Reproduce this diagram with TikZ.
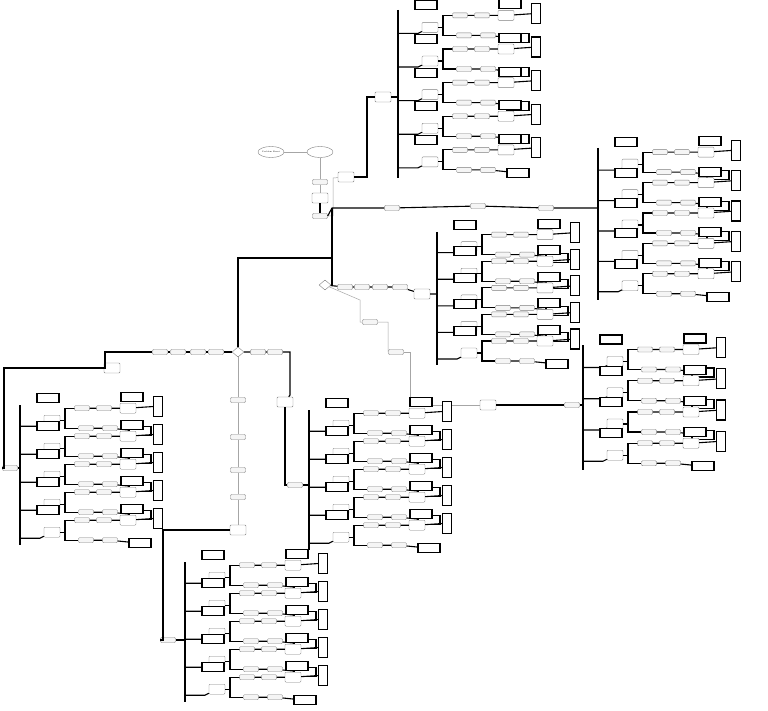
\documentclass[tikz,border=0pt]{standalone}
\usetikzlibrary{shapes.geometric}
\tikzset{
 thk/.style={line width=1.1pt},
 thn/.style={gray!70,line width=0.5pt},
 gbox/.style={draw=gray,fill=gray!8,minimum width=15pt,minimum height=5pt,inner sep=0pt,rounded corners=1pt},
 bbox/.style={draw=black,line width=1.1pt,fill=white,minimum width=22pt,minimum height=9pt,inner sep=0pt},
 tbox/.style={draw=black,line width=1.1pt,fill=white,minimum width=9pt,minimum height=20pt,inner sep=0pt},
 para/.style={draw=gray,fill=white,minimum width=16pt,minimum height=10pt,inner sep=0pt,rounded corners=1pt},
 ell/.style={draw=gray,ellipse,minimum width=26pt,minimum height=11pt,inner sep=0pt,font=\fontsize{2}{2}\selectfont},
 dia/.style={draw=gray,diamond,fill=white,minimum width=12pt,minimum height=10pt,inner sep=0pt},
}
\newcommand\subtr[5]{%
 \draw[thk] (#2,#3) -- (#2,#4);
 \foreach \i in {1,...,#5}{%
  \pgfmathsetmacro\yy{#3+(\i-0.6)*(#4-#3)/#5+4}
  \pgfmathsetmacro\ya{\yy-12}
  \pgfmathsetmacro\yb{\yy+8}
  \pgfmathsetmacro\yc{\yy-22}
  \node[para] (#1-\i-p) at (#2+32,\yy) {};
  \draw[thk] (#2,\yy+6) -- ++(20,0) -- (#1-\i-p);
  \draw[thk] (#1-\i-p.east) -- (#2+45,\yy) -- (#2+45,\ya) -- (#2+58,\ya);
  \draw[thk] (#2+45,\yy) -- (#2+45,\yb) -- (#2+58,\yb);
  \node[bbox] (#1-\i-t) at (#2+28,\yc) {};
  \node[gbox] (#1-\i-a) at (#2+62,\ya) {};
  \node[gbox] (#1-\i-b) at (#2+84,\ya) {};
  \node[para] (#1-\i-c) at (#2+108,\ya) {};
  \node[bbox] (#1-\i-d) at (#2+112,\ya-11) {};
  \node[tbox] (#1-\i-e) at (#2+138,\ya-2) {};
  \draw[thk] (#1-\i-a) -- (#1-\i-b) -- (#1-\i-c) -- (#1-\i-e);
  \node[gbox] (#1-\i-f) at (#2+66,\yb) {};
  \node[gbox] (#1-\i-g) at (#2+90,\yb) {};
  \node[bbox] (#1-\i-h) at (#2+120,\yb+3) {};
  \draw[thk] (#1-\i-f) -- (#1-\i-g) -- (#1-\i-h);
 }}
\begin{document}
\begin{tikzpicture}[x=1pt,y=-1pt]
\useasboundingbox[fill=white] (0,0) rectangle (768,711);
\node[ell] (e1) at (271,152) {Problem Event};
\node[ell] (e2) at (320,152) {};
\draw[thn] (e1) -- (e2);
\node[gbox] (s1) at (320,182) {};
\node[para] (s2) at (320,198) {};
\node[gbox] (s3) at (320,216) {};
\draw[thn] (e2) -- (s1) -- (s2);
\draw[thk] (s2) -- (s3);
\node[para] (s4) at (346,177) {};
\draw[thn] (s3.east) -- (333,216) -- (333,178) -- (s4);
\node[para] (r1) at (383,97) {};
\draw[thk] (s4.east) -- (367,177) -- (367,97) -- (r1);
\draw[thk] (r1) -- (398,97);
\subtr{A}{398}{10}{178}{5}
\coordinate (j1) at (332,208);
\node[gbox] (t1) at (392,208) {};
\node[gbox] (t2) at (478,206) {};
\node[gbox] (t3) at (546,208) {};
\draw[thk] (s3.east) -- (j1) -- (t1) -- (t2) -- (t3) -- (598,208);
\subtr{B}{598}{148}{300}{5}
\node[dia] (d2) at (238,352) {};
\node[dia] (d1) at (325,285) {};
\draw[thk] (j1) -- (332,258) -- (238,258) -- (d2);
\draw[thk] (332,258) -- (332,285) -- (d1);
\node[gbox] (m1) at (345,287) {};
\node[gbox] (m2) at (362,287) {};
\node[gbox] (m3) at (380,287) {};
\node[gbox] (m4) at (400,287) {};
\node[para] (m5) at (422,294) {};
\draw[thk] (d1) -- (m1) -- (m2) -- (m3) -- (m4) -- (m5) -- (437,294);
\subtr{C}{437}{232}{365}{5}
\node[gbox] (n1) at (370,322) {};
\node[gbox] (n2) at (396,352) {};
\draw[thn] (d1) -- (360,300) -- (360,322) -- (n1) -- (388,322) -- (388,352) -- (n2);
\node[para] (n3) at (488,405) {};
\node[gbox] (n4) at (572,405) {};
\draw[thn] (n2) -- (410,352) -- (410,405) -- (n3);
\draw[thk] (n3) -- (n4) -- (583,405);
\subtr{D}{583}{345}{470}{4}
\node[gbox] (l1) at (160,352) {};
\node[gbox] (l2) at (178,352) {};
\node[gbox] (l3) at (198,352) {};
\node[gbox] (l4) at (216,352) {};
\node[para] (l5) at (112,368) {};
\draw[thk] (d2) -- (l4) -- (l3) -- (l2) -- (l1) -- (105,352) -- (105,368) -- (l5);
\node[gbox] (l6) at (10,468) {};
\draw[thk] (l5) -- (4,368) -- (4,468) -- (l6) -- (20,468);
\subtr{L}{20}{405}{545}{5}
\node[gbox] (r2) at (258,352) {};
\node[gbox] (r3) at (275,352) {};
\node[para] (r4) at (285,402) {};
\node[gbox] (r5) at (295,485) {};
\draw[thk] (d2) -- (r2) -- (r3) -- (290,352) -- (290,395) -- (r4);
\draw[thk] (r4) -- (285,485) -- (r5) -- (309,485);
\subtr{M}{309}{410}{550}{5}
\node[gbox] (v1) at (238,400) {};
\node[gbox] (v2) at (238,437) {};
\node[gbox] (v3) at (238,470) {};
\node[gbox] (v4) at (238,497) {};
\node[para] (v5) at (238,530) {};
\node[gbox] (v6) at (168,640) {};
\draw[thn] (d2) -- (v1) -- (v2) -- (v3) -- (v4) -- (v5);
\draw[thk] (v5) -- (163,530) -- (163,640) -- (v6) -- (185,640);
\subtr{S}{185}{562}{702}{5}
\end{tikzpicture}
\end{document}
